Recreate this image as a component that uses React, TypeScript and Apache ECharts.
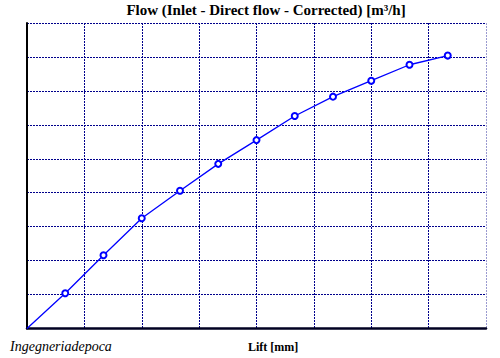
import React, { useEffect, useRef } from "react";
import * as echarts from "echarts";

const titleText = "Flow (Inlet - Direct flow - Corrected) [m³/h]";
const xLabel = "Lift [mm]";
const watermark = "Ingegneriadepoca";

const liftValues = [0, 2, 4, 6, 8, 10, 12, 14, 16, 18, 20, 22];
const flowValues = [0, 10.4, 21.6, 32.5, 40.6, 48.5, 55.5, 62.6, 68.3, 73.0, 77.7, 80.4];

const xMin = 0;
const xMax = 24;
const xInterval = 3;
const yMin = 0;
const yMax = 90;
const yInterval = 10;

const serif = "Liberation Serif";

export default function App() {
  const ref = useRef<HTMLDivElement>(null);

  useEffect(() => {
    if (!ref.current) return;
    const chart = echarts.init(ref.current, null, { renderer: "svg" });
    const gridColor = "#00008b";
    const xSplitColors = [
      gridColor, gridColor, gridColor, gridColor, gridColor,
      gridColor, gridColor, gridColor, "#9a9ad0",
    ];
    const data = liftValues.map((x, i) =>
      i === 0
        ? { value: [x, flowValues[i]], symbol: "none" }
        : { value: [x, flowValues[i]] }
    );
    chart.setOption({
      animation: false,
      backgroundColor: "#ffffff",
      grid: { left: 27, right: 14, top: 23, bottom: 29.5, containLabel: false },
      xAxis: {
        type: "value",
        min: xMin,
        max: xMax,
        interval: xInterval,
        axisLabel: { show: false },
        axisTick: { show: false },
        axisLine: { show: true, onZero: false, lineStyle: { color: "#000022", width: 2.5 } },
        splitLine: { show: true, lineStyle: { color: xSplitColors, type: [2, 1], width: 1 } },
      },
      yAxis: {
        type: "value",
        min: yMin,
        max: yMax,
        interval: yInterval,
        axisLabel: { show: false },
        axisTick: { show: false },
        axisLine: { show: true, onZero: false, lineStyle: { color: "#000000", width: 2 } },
        splitLine: { show: true, lineStyle: { color: gridColor, type: [2, 1], width: 1 } },
      },
      series: [
        {
          type: "line",
          data,
          symbol: "emptyCircle",
          symbolSize: 6,
          lineStyle: { color: "#0000ff", width: 1.3 },
          itemStyle: { color: "#0000ff", borderColor: "#0000ff", borderWidth: 1.2 },
          z: 5,
        },
      ],
      graphic: [
        {
          type: "text",
          x: 266,
          y: 10,
          style: {
            text: titleText,
            fontFamily: serif,
            fontWeight: "bold",
            fontSize: 15,
            fill: "#000000",
            align: "center",
            verticalAlign: "middle",
          },
        },
        {
          type: "text",
          x: 248,
          y: 347,
          style: {
            text: xLabel,
            fontFamily: serif,
            fontWeight: "bold",
            fontSize: 12,
            fill: "#000000",
            verticalAlign: "middle",
          },
        },
        {
          type: "text",
          x: 10,
          y: 346,
          style: {
            text: watermark,
            fontFamily: serif,
            fontStyle: "italic",
            fontSize: 14,
            fill: "#000000",
            verticalAlign: "middle",
          },
        },
      ],
    });
    return () => chart.dispose();
  }, []);

  return (
    <div
      ref={ref}
      style={{ position: "fixed", left: 0, top: 0, width: 500, height: 358, background: "#fff" }}
    />
  );
}
